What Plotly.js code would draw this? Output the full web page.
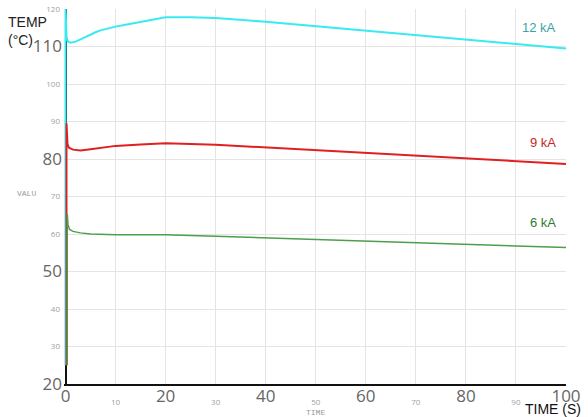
<!DOCTYPE html>
<html>
<head>
<meta charset="utf-8">
<script src="https://cdn.plot.ly/plotly-3.0.1.min.js"></script>
<style>html,body{margin:0;padding:0;background:#fff;}#chart{width:588px;height:417px;}</style>
</head>
<body>
<div id="chart"></div>
<script>
// ---- data ----
var time12 = [0, 0, 0.2, 0.5, 1, 1.5, 2, 3, 4, 5, 6, 7, 8, 10, 12, 15, 18, 20, 25, 30, 40, 50, 60, 70, 80, 90, 100];
var temp12 = [25, 121, 112.5, 111.3, 111.0, 111.05, 111.3, 111.9, 112.6, 113.2, 113.8, 114.3, 114.7, 115.3, 115.8, 116.5, 117.3, 117.8, 117.8, 117.6, 116.6, 115.4, 114.3, 113.2, 112.0, 110.8, 109.5];

var time9 = [0.2, 0.2, 0.4, 0.7, 1.5, 3, 5, 7, 10, 15, 20, 30, 40, 50, 60, 70, 80, 90, 100];
var temp9 = [25, 89.5, 84.0, 83.0, 82.5, 82.3, 82.6, 83.0, 83.5, 83.9, 84.2, 83.8, 83.1, 82.4, 81.7, 81.0, 80.2, 79.5, 78.7];

var time6 = [0.35, 0.35, 0.5, 0.8, 1.5, 3, 5, 10, 20, 30, 40, 50, 60, 70, 80, 90, 100];
var temp6 = [25, 65.4, 62.5, 61.2, 60.7, 60.3, 60.0, 59.8, 59.8, 59.4, 59.0, 58.6, 58.1, 57.7, 57.2, 56.8, 56.4];

var seriesNames = ["12 kA", "9 kA", "6 kA"];
var seriesLabelY = [115, 84.4, 63];

var xTicksMajor = [0, 20, 40, 60, 80, 100];
var xTicksMinor = [10, 30, 50, 70, 90];
var yTicksMajor = [20, 50, 80, 110];
var yTicksMinor = [30, 40, 60, 70, 90, 100, 120];

// ---- styles ----
var lineColors = ["#38eaf2", "#e02020", "#4c9f4c"];
var lineWidths = [2, 2, 1.5];
var labelColors = ["#3aa3a3", "#c62828", "#2e7d32"];

var xs = [time12, time9, time6];
var ys = [temp12, temp9, temp6];

var traces = [];
for (var i = 0; i < 3; i++) {
  traces.push({
    x: xs[i], y: ys[i], type: "scatter", mode: "lines",
    name: seriesNames[i],
    line: {color: lineColors[i], width: lineWidths[i]},
    hoverinfo: "skip"
  });
}
// helper trace for the overlaid minor axes
traces.push({x: [50], y: [70], xaxis: "x2", yaxis: "y2", type: "scatter", mode: "markers",
  marker: {opacity: 0}, hoverinfo: "skip", showlegend: false});

var xr = [-0.3, 100];
var yr = [20, 120];
var grid = "#e4e4e4";

var annotations = [];
for (var j = 0; j < 3; j++) {
  annotations.push({
    xref: "x", yref: "y", x: 100, y: seriesLabelY[j], xanchor: "right", yanchor: "middle",
    xshift: -8, text: seriesNames[j], showarrow: false,
    font: {family: "Liberation Sans, Arial, sans-serif", size: 13, color: labelColors[j]}
  });
}
annotations.push({
  xref: "paper", yref: "paper", x: -0.116, y: 0.993, xanchor: "left", yanchor: "top",
  text: "TEMP<br>(°C)", align: "left", showarrow: false,
  font: {family: "Liberation Sans, Arial, sans-serif", size: 14, color: "#222"}
});
annotations.push({
  xref: "paper", yref: "paper", x: 1.034, y: -0.066, xanchor: "right", yanchor: "middle",
  text: "TIME (S)", showarrow: false,
  font: {family: "Liberation Sans, Arial, sans-serif", size: 14, color: "#111"}
});
annotations.push({
  xref: "paper", yref: "paper", x: -0.074, y: 0.507, xanchor: "center", yanchor: "middle",
  text: "VALU", showarrow: false,
  font: {family: "Liberation Mono, Courier New, monospace", size: 8, color: "#999"}
});
annotations.push({
  xref: "paper", yref: "paper", x: 0.501, y: -0.075, xanchor: "center", yanchor: "middle",
  text: "TIME", showarrow: false,
  font: {family: "Liberation Mono, Courier New, monospace", size: 8, color: "#999"}
});

var layout = {
  width: 588, height: 417,
  margin: {l: 64, r: 22, t: 9, b: 33, pad: 0},
  paper_bgcolor: "#fff", plot_bgcolor: "#fff",
  showlegend: false,
  xaxis: {
    range: xr, tickmode: "array", tickvals: xTicksMajor, ticktext: xTicksMajor.map(String),
    showgrid: true, gridcolor: grid, gridwidth: 1,
    zeroline: true, zerolinecolor: "#111", zerolinewidth: 2,
    showline: true, linecolor: "#111", linewidth: 2, ticks: "",
    ticklabelstandoff: -4,
    tickfont: {family: "Open Sans, sans-serif", size: 17, color: "#666"}
  },
  xaxis2: {
    overlaying: "x", anchor: "y2", side: "bottom",
    range: xr, tickmode: "array", tickvals: xTicksMinor, ticktext: xTicksMinor.map(String),
    showgrid: true, gridcolor: grid, gridwidth: 1, zeroline: false, showline: false, ticks: "",
    ticklabelstandoff: 12,
    tickfont: {family: "Open Sans, sans-serif", size: 8, color: "#a0a0a0"}
  },
  yaxis: {
    range: yr, tickmode: "array", tickvals: yTicksMajor, ticktext: yTicksMajor.map(String),
    showgrid: true, gridcolor: grid, gridwidth: 1, zeroline: false,
    showline: false, ticks: "",
    ticklabelstandoff: 1,
    tickfont: {family: "Open Sans, sans-serif", size: 17, color: "#666"}
  },
  yaxis2: {
    overlaying: "y", anchor: "x2", side: "left",
    range: yr, tickmode: "array", tickvals: yTicksMinor, ticktext: yTicksMinor.map(String),
    showgrid: true, gridcolor: grid, gridwidth: 1, zeroline: false, showline: false, ticks: "",
    ticklabelstandoff: 3,
    tickfont: {family: "Open Sans, sans-serif", size: 8, color: "#a0a0a0"}
  },
  annotations: annotations
};

Plotly.newPlot("chart", traces, layout, {staticPlot: true, displayModeBar: false});
</script>
</body>
</html>
